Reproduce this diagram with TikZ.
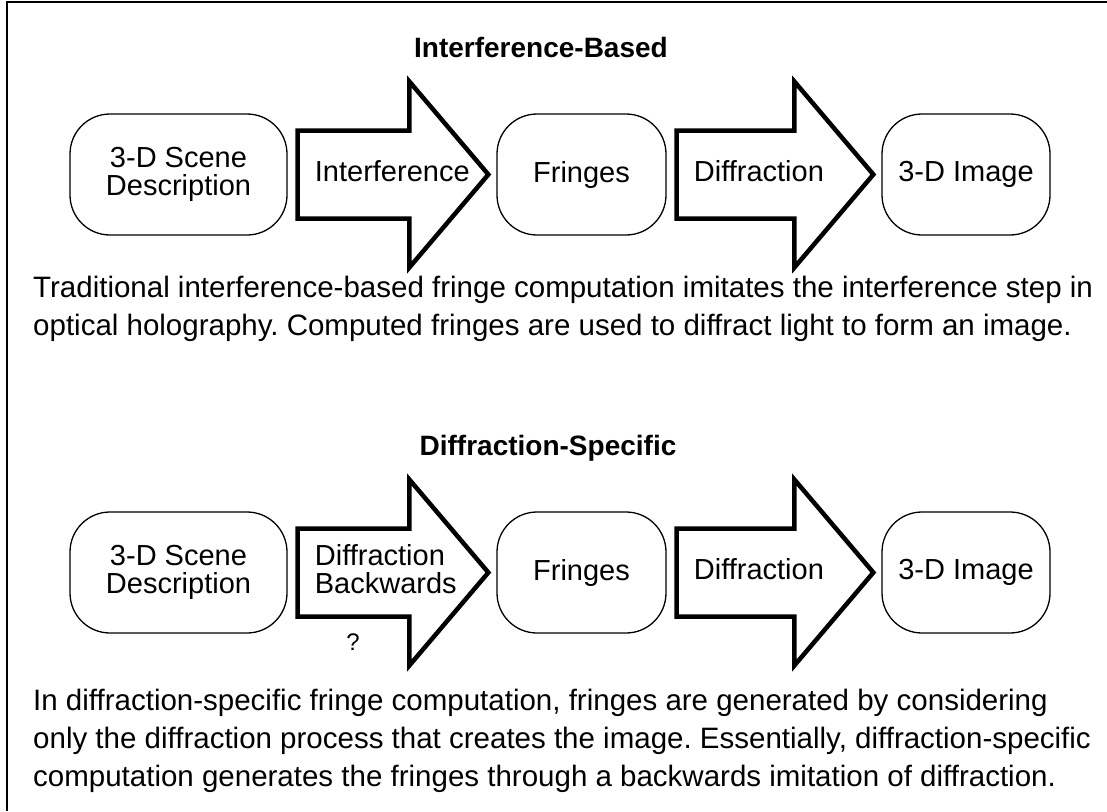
\documentclass[tikz,border=0pt]{standalone}
\usepackage{fontspec}
\setmainfont{Liberation Sans}
\frenchspacing
\usetikzlibrary{calc, positioning}
\tikzset{
  stage/.style={draw, line width=1.3pt, rounded corners=40pt, align=center, inner sep=0pt,
    minimum height=121pt, font=\fontsize{29}{28}\selectfont},
  blockarrow/.style={draw, fill=white, line width=4.5pt, miter limit=20},
  arrowtext/.style={inner sep=0pt, align=left, font=\fontsize{29}{28}\selectfont},
  heading/.style={inner sep=0pt, font=\fontsize{28}{30}\selectfont\bfseries},
  note/.style={inner sep=0pt, align=left, font=\fontsize{29.5}{38}\selectfont},
  frame/.style={line width=2pt}
}
\newcommand\bigarrow[4]{%
  \draw[blockarrow] let \p1=(#1.east), \p2=(#2.west) in
    (\x1+10pt,\y1+44pt) -- (\x2-87pt,\y1+44pt) -- (\x2-87pt,\y1+93pt) -- (\x2-8pt,\y1)
    -- (\x2-87pt,\y1-93pt) -- (\x2-87pt,\y1-44pt) -- (\x1+10pt,\y1-44pt) -- cycle
    (\x1+25pt,\y1+3pt) node[anchor=west, arrowtext] (#3) {#4};}

\begin{document}
\begin{tikzpicture}[x=1pt, y=-1pt]
\useasboundingbox (0,0) rectangle (1107,811);
\draw[frame] (7,811) -- (7,2) -- (1107,2);

\node[heading] (top) at (541,47) {Interference-Based};
\node[stage, minimum width=217pt] (scene1) at (178.5,174.5) {3-D Scene\\Description};
\node[stage, minimum width=169pt] (fringes1) at (581.5,174.5) {Fringes};
\node[stage, minimum width=168pt] (image1) at (966,174.5) {3-D Image};
\bigarrow{scene1}{fringes1}{interf}{Interference}
\bigarrow{fringes1}{image1}{diffr1}{Diffraction}
\node[note, anchor=north west] (note1) at (33,276) {Traditional interference-based fringe computation imitates the interference step in\\optical holography. Computed fringes are used to diffract light to form an image.};

\node[heading] (bottom) at (548,448) {Diffraction-Specific};
\node[stage, minimum width=217pt] (scene2) at (178.5,572.5) {3-D Scene\\Description};
\node[stage, minimum width=169pt] (fringes2) at (581.5,572.5) {Fringes};
\node[stage, minimum width=168pt] (image2) at (966,572.5) {3-D Image};
\bigarrow{scene2}{fringes2}{backw}{Diffraction\\Backwards}
\bigarrow{fringes2}{image2}{diffr2}{Diffraction}
\node[inner sep=0pt, font=\fontsize{24}{26}\selectfont] (quest) at (353,642) {?};
\node[note, anchor=north west] (note2) at (33,689) {In diffraction-specific fringe computation, fringes are generated by considering\\only the diffraction process that creates the image. Essentially, diffraction-specific\\computation generates the fringes through a backwards imitation of diffraction.};
\end{tikzpicture}
\end{document}
